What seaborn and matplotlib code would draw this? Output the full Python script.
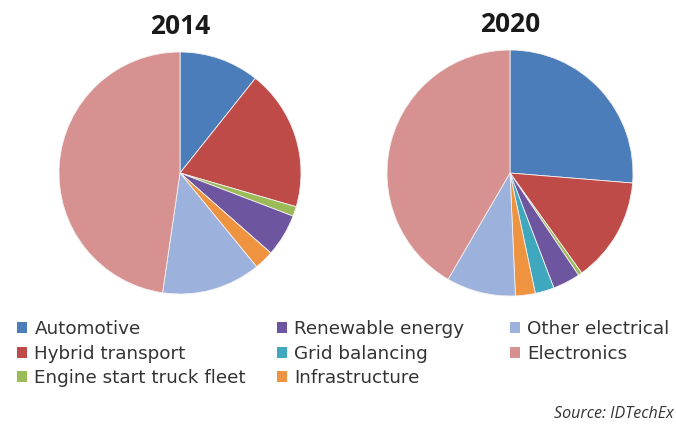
import matplotlib
matplotlib.use("Agg")
import matplotlib.pyplot as plt
from matplotlib.patches import Patch
import seaborn as sns

# Market segments, in drawing order (clockwise from 12 o'clock)
categories = [
    "Automotive",
    "Hybrid transport",
    "Engine start truck fleet",
    "Renewable energy",
    "Grid balancing",
    "Infrastructure",
    "Other electrical",
    "Electronics",
]

# Share of each segment (%)
share_2014 = [10.7, 18.8, 1.3, 5.7, 0.0, 2.6, 13.2, 47.7]
share_2020 = [26.3, 13.8, 0.5, 3.6, 2.5, 2.6, 9.1, 41.6]

years = ["2014", "2020"]

colors = sns.color_palette([
    "#4A7DBA",  # Automotive
    "#BF4B48",  # Hybrid transport
    "#9BBB59",  # Engine start truck fleet
    "#6E55A0",  # Renewable energy
    "#3FA7BE",  # Grid balancing
    "#EE9340",  # Infrastructure
    "#9CB1DB",  # Other electrical
    "#D69190",  # Electronics
])

sns.set_theme(style="white")
plt.rcParams["font.family"] = ["DejaVu Sans"]

W, H = 676, 432
fig = plt.figure(figsize=(W / 100, H / 100), dpi=100)
fig.patch.set_facecolor("white")

# pie centres and radii in pixels
pies = [(180, 173, 121), (510, 173, 123)]
title_y = [27, 25]

for (cx, cy, r), values, year, ty in zip(pies, [share_2014, share_2020], years, title_y):
    ax = fig.add_axes([(cx - r) / W, (H - cy - r) / H, 2 * r / W, 2 * r / H])
    ax.pie(
        values,
        colors=colors,
        startangle=90,
        counterclock=False,
        radius=1.0,
        wedgeprops=dict(edgecolor="#f4f0f0", linewidth=0.6),
    )
    ax.set_xlim(-1.0, 1.0)
    ax.set_ylim(-1.0, 1.0)
    ax.set_aspect("auto")
    ax.axis("off")
    fig.text(cx / W, 1 - ty / H, year, ha="center", va="center",
             fontsize=19, fontweight="bold", color="#1a1a1a",
             family=["Open Sans", "DejaVu Sans"])

# legend laid out as three columns
handles = [Patch(facecolor=c, edgecolor="none") for c in colors]
columns = [(0, 3, 17), (3, 6, 277), (6, 8, 510)]
legend_top = 320
for start, stop, x0 in columns:
    leg = fig.legend(
        handles[start:stop], categories[start:stop],
        loc="upper left",
        bbox_to_anchor=(x0 / W, 1 - legend_top / H),
        frameon=False,
        fontsize=13.2,
        handlelength=0.55,
        handleheight=0.55,
        handletextpad=0.4,
        labelspacing=0.36,
        borderaxespad=0,
        borderpad=0,
    )
    for t in leg.get_texts():
        t.set_color("#333333")

fig.text(674 / W, 1 - 414 / H, "Source: IDTechEx", ha="right", va="center",
         fontsize=11.5, style="italic", color="#333333",
         family=["Open Sans", "DejaVu Sans"])

fig.savefig("out.png", dpi=100, facecolor="white")
